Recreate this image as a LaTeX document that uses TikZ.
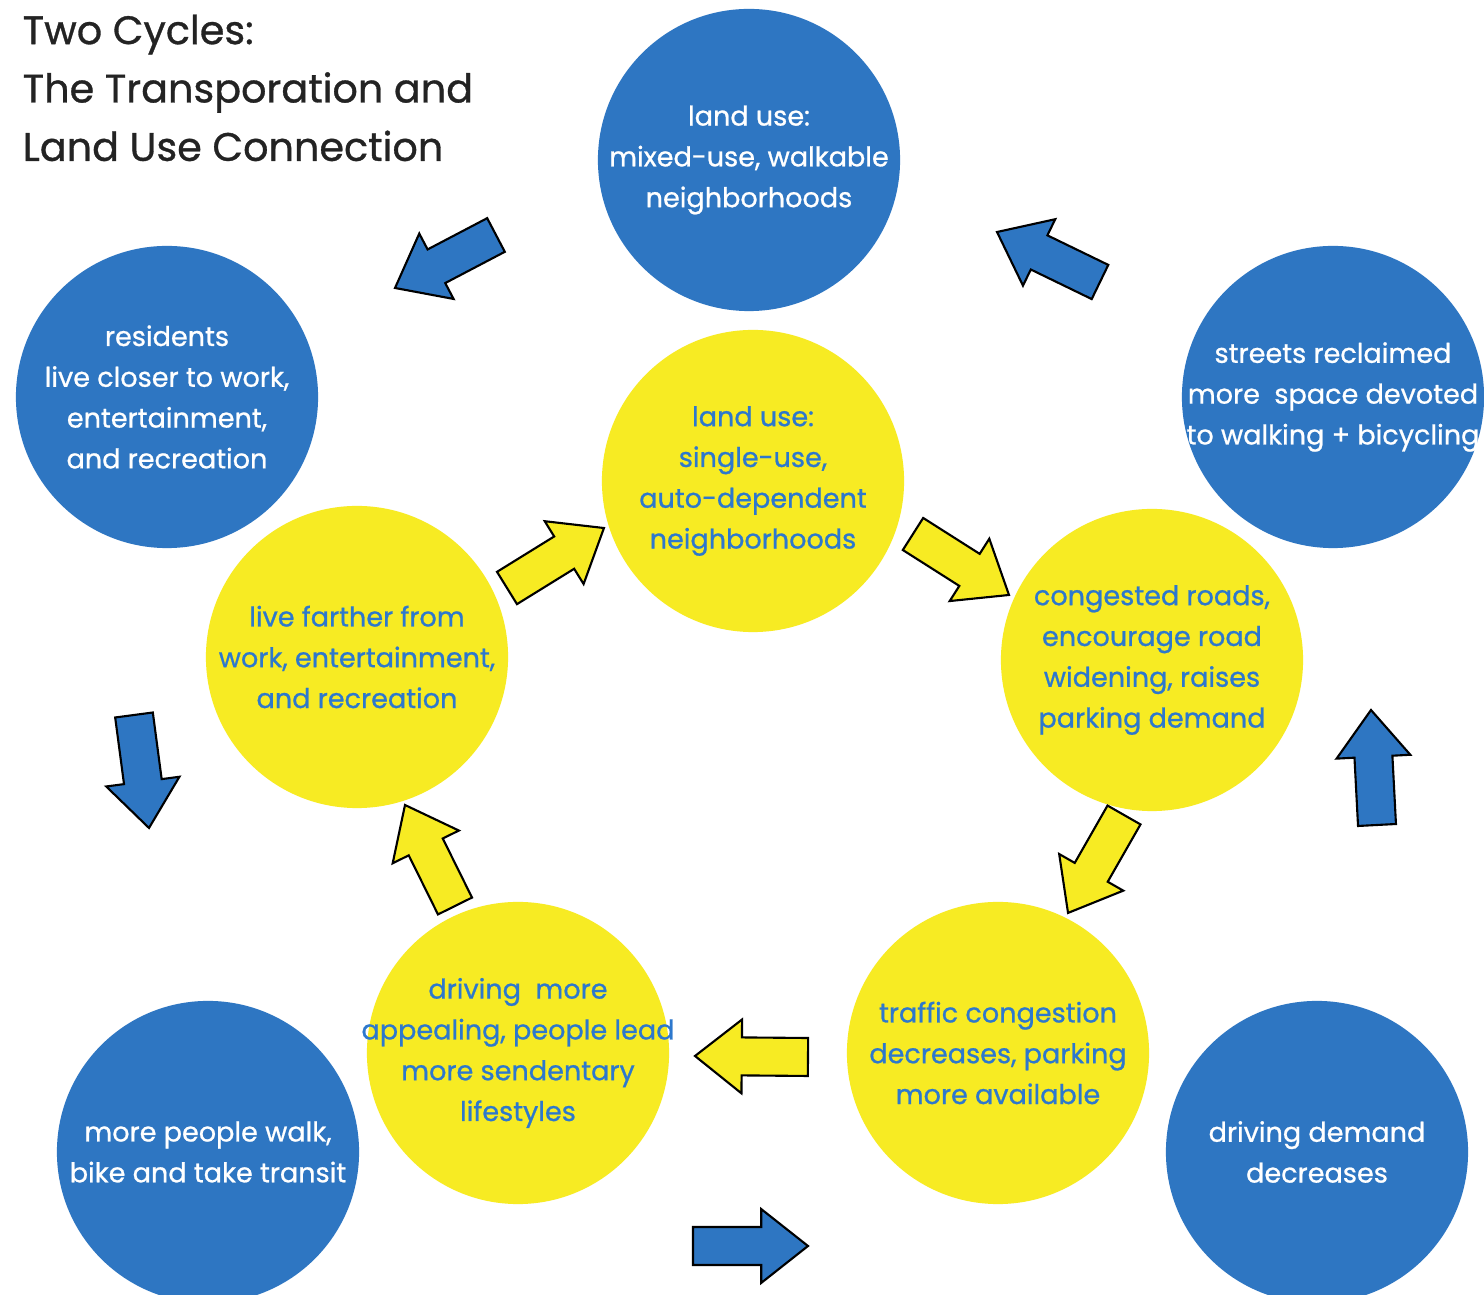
\documentclass[tikz,border=0pt]{standalone}
\usepackage{fontspec}
\setmainfont{Poppins}[FakeBold=0.8]
\usetikzlibrary{calc}
\definecolor{circblue}{RGB}{46,118,194}
\definecolor{circyellow}{RGB}{247,235,35}
\definecolor{textblue}{RGB}{45,120,205}
\definecolor{titlegray}{RGB}{35,35,35}

\newcommand{\bigarrow}[3]{%
  \draw[#1] let \p1=(#2), \p2=(#3), \n1={atan2(\y2-\y1,\x2-\x1)},
    \n2={veclen(\x2-\x1,\y2-\y1)} in [shift={(\p1)}, rotate=\n1]
    (0pt,-5.4pt) -- ({\n2-13.3pt},-5.4pt) -- ({\n2-13.3pt},-10.5pt) -- (\n2,0pt)
    -- ({\n2-13.3pt},10.5pt) -- ({\n2-13.3pt},5.4pt) -- (0pt,5.4pt) -- cycle;}

\begin{document}
\begin{tikzpicture}[x=0.01cm, y=-0.01cm,
    circtext/.style={circle, minimum size=3.02cm, inner sep=-12pt, align=center,
      font=\fontsize{7.7}{11.6}\selectfont},
    bluecirc/.style={circtext, fill=circblue, text=white},
    yellowcirc/.style={circtext, fill=circyellow, text=textblue},
    bluearrow/.style={fill=circblue, draw=black, line width=0.6pt, line join=miter},
    yellowarrow/.style={fill=circyellow, draw=black, line width=0.6pt, line join=miter}]
  \path[use as bounding box, fill=white] (0,0) rectangle (1484,1295);

  \node [anchor=north west, align=left, text=titlegray, inner sep=0pt,
    font=\fontsize{11.3}{16.6}\selectfont] (title) at (22,14)
    {Two Cycles:\\The Transporation and\\Land Use Connection};

  \node [bluecirc] (mixed) at (749,160) {land use:\\mixed-use, walkable\\neighborhoods};
  \node [bluecirc] (resid) at (167,397) {residents\\live closer to work,\\entertainment,\\and recreation};
  \node [bluecirc] (street) at (1333,397) {streets reclaimed\\more\ \ space devoted\\to walking + bicycling};
  \node [bluecirc] (walk) at (208,1152) {more people walk,\\bike and take transit};
  \node [bluecirc] (demand) at (1317,1152) {driving demand\\decreases};

  \node [yellowcirc] (single) at (753,481) {land use:\\single-use,\\auto-dependent\\neighborhoods};
  \node [yellowcirc] (farther) at (357,657) {live farther from\\work, entertainment,\\and recreation};
  \node [yellowcirc] (congest) at (1152,660) {congested roads,\\encourage road\\widening, raises\\parking demand};
  \node [yellowcirc] (sedent) at (518,1053) {driving\ \ more\\appealing, people lead\\more sendentary\\lifestyles};
  \node [yellowcirc] (traffic) at (998,1053) {traffic congestion\\decreases, parking\\more available};

  \coordinate (ya1s) at (507,588);   \coordinate (ya1e) at (604,528);
  \coordinate (ya2s) at (913,534);   \coordinate (ya2e) at (1009,595);
  \coordinate (ya3s) at (1124,815);  \coordinate (ya3e) at (1068,913);
  \coordinate (ya4s) at (808,1057);  \coordinate (ya4e) at (695,1056);
  \coordinate (ya5s) at (455,906);   \coordinate (ya5e) at (405,805);
  \coordinate (ba1s) at (1100,282);  \coordinate (ba1e) at (997,232);
  \coordinate (ba2s) at (496,235);   \coordinate (ba2e) at (395,288);
  \coordinate (ba3s) at (134,715);   \coordinate (ba3e) at (149,828);
  \coordinate (ba4s) at (693,1246);  \coordinate (ba4e) at (808,1246);
  \coordinate (ba5s) at (1377,825);  \coordinate (ba5e) at (1371,710);

  \foreach \i in {1,...,5} {
    \bigarrow{yellowarrow}{ya\i s}{ya\i e}
    \bigarrow{bluearrow}{ba\i s}{ba\i e}
  }
\end{tikzpicture}
\end{document}
